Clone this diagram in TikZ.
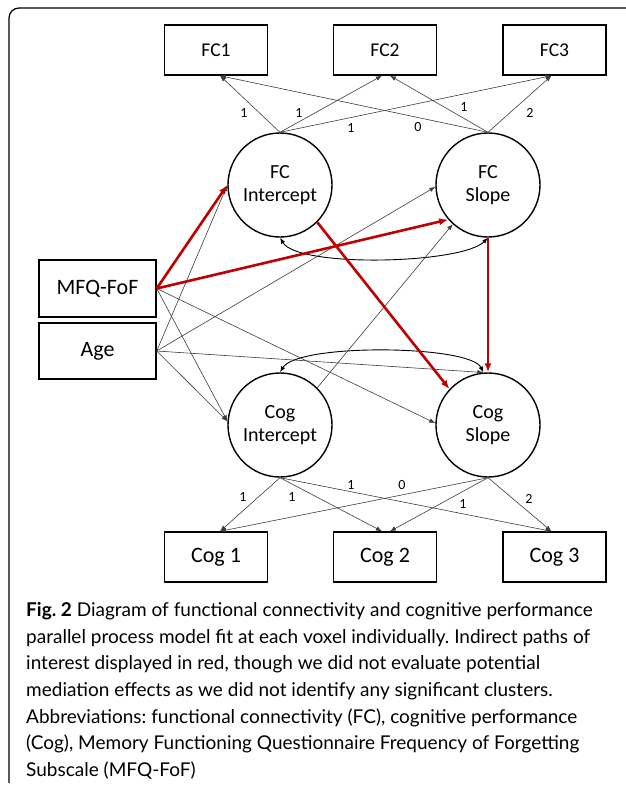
\documentclass[tikz,border=0pt]{standalone}
\usepackage{fontspec}
\setmainfont{Carlito}
\newfontfamily\capfont{Lato}
\usetikzlibrary{arrows.meta}
\definecolor{pathred}{RGB}{192,0,0}
\definecolor{thingray}{RGB}{60,60,60}
\frenchspacing
\tikzset{
  box/.style={draw=black, line width=1.4pt, minimum width=103pt, minimum height=50pt, inner sep=0pt},
  smalltxt/.style={font=\fontsize{19.5}{22}\selectfont},
  bigtxt/.style={font=\fontsize{22}{24}\selectfont},
  latent/.style={draw=black, circle, line width=1.4pt, minimum size=104pt, inner sep=0pt, align=center, font=\fontsize{20}{23}\selectfont},
  thinpath/.style={draw=thingray, line width=0.6pt, -{Latex[length=6pt,width=4.5pt]}},
  redpath/.style={draw=pathred, line width=2.6pt, -{Latex[length=9pt,width=7pt]}},
  covpath/.style={draw=black, line width=0.9pt, {Latex[length=6pt,width=4.5pt]}-{Latex[length=6pt,width=4.5pt]}},
  loadlbl/.style={font=\fontsize{14}{14}\selectfont, inner sep=0pt},
  capline/.style={anchor=base west, inner sep=0pt, font=\capfont\fontsize{19}{26}\selectfont}
}
\begin{document}
\begin{tikzpicture}[x=1pt,y=-1pt]
\useasboundingbox (0,0) rectangle (625,787);
% frame
\draw[line width=1.2pt, rounded corners=10pt] (626,8) -- (9,8) -- (9,783);

% observed boxes
\node[box, smalltxt] (fc1) at (216,50) {FC1};
\node[box, smalltxt] (fc2) at (385,50) {FC2};
\node[box, smalltxt] (fc3) at (554.5,50) {FC3};
\node[box, bigtxt] (cog1) at (216,557) {Cog 1};
\node[box, bigtxt] (cog2) at (385,557) {Cog 2};
\node[box, bigtxt] (cog3) at (554.5,557) {Cog 3};
\node[box, bigtxt, minimum width=117pt, minimum height=57pt] (mfq) at (97.5,288.5) {MFQ-FoF};
\node[box, bigtxt, minimum width=117pt, minimum height=56pt] (age) at (97.5,351) {Age};

% latent factors
\node[latent] (fcint) at (280,185) {FC\\Intercept};
\node[latent] (fcslope) at (488,185) {FC\\Slope};
\node[latent] (cogint) at (280,425) {Cog\\Intercept};
\node[latent] (cogslope) at (488,425) {Cog\\Slope};

% FC loadings
\draw[thinpath] (fcint.north) -- ([xshift=4pt]fc1.south);
\draw[thinpath] (fcint.north) -- ([xshift=-3pt]fc2.south);
\draw[thinpath] (fcint.north) -- ([xshift=-3pt]fc3.south);
\draw[thinpath] (fcslope.north) -- ([xshift=4pt]fc1.south);
\draw[thinpath] (fcslope.north) -- ([xshift=5pt]fc2.south);
\draw[thinpath] (fcslope.north) -- ([xshift=-3pt]fc3.south);
\node[loadlbl] (l1) at (244,113) {1};
\node[loadlbl] (l2) at (299,113) {1};
\node[loadlbl] (l3) at (351,128) {1};
\node[loadlbl] (l4) at (418,127) {0};
\node[loadlbl] (l5) at (464,107) {1};
\node[loadlbl] (l6) at (530,113) {2};

% Cog loadings
\draw[thinpath] (cogint.south) -- ([xshift=4pt]cog1.north);
\draw[thinpath] (cogint.south) -- ([xshift=-3pt]cog2.north);
\draw[thinpath] (cogint.south) -- ([xshift=-3pt]cog3.north);
\draw[thinpath] (cogslope.south) -- ([xshift=4pt]cog1.north);
\draw[thinpath] (cogslope.south) -- ([xshift=5pt]cog2.north);
\draw[thinpath] (cogslope.south) -- ([xshift=-3pt]cog3.north);
\node[loadlbl] (m1) at (243,497) {1};
\node[loadlbl] (m2) at (292,497) {1};
\node[loadlbl] (m3) at (351,485) {1};
\node[loadlbl] (m4) at (402,485) {0};
\node[loadlbl] (m5) at (463,504) {1};
\node[loadlbl] (m6) at (529,499) {2};

% covariances
\draw[covpath] (fcint.south) .. controls (298,268) and (462,264) .. (fcslope.south);
\draw[covpath] (cogint.north) .. controls (298,343) and (470,345) .. (cogslope.95);

% thin regressions
\draw[thinpath] (age.east) -- (fcint.west);
\draw[thinpath] (age.east) -- (fcslope.182);
\draw[thinpath] (cogint.45) -- (fcslope.228);
\draw[thinpath] (mfq.east) -- (cogint.176);
\draw[thinpath] (age.east) -- (cogint.176);
\draw[thinpath] (mfq.east) -- (cogslope.178);
\draw[thinpath] (age.east) -- (cogslope.95);

% red paths
\draw[redpath] (mfq.east) -- (fcint.west);
\draw[redpath] (mfq.east) -- (fcslope.221);
\draw[redpath] (fcint.-45) -- (cogslope.137);
\draw[redpath] (fcslope.south) -- (cogslope.north);

% caption
\node[capline] (c1) at (26,616) {\textbf{Fig. 2} Diagram of functional connectivity and cognitive performance};
\node[capline] (c2) at (26,643) {parallel process model fit at each voxel individually. Indirect paths of};
\node[capline] (c3) at (26,669) {interest displayed in red, though we did not evaluate potential};
\node[capline] (c4) at (26,696) {mediation effects as we did not identify any significant clusters.};
\node[capline] (c5) at (26,723) {Abbreviations: functional connectivity (FC), cognitive performance};
\node[capline] (c6) at (26,749) {(Cog), Memory Functioning Questionnaire Frequency of Forgetting};
\node[capline] (c7) at (26,776) {Subscale (MFQ-FoF)};
\end{tikzpicture}
\end{document}
